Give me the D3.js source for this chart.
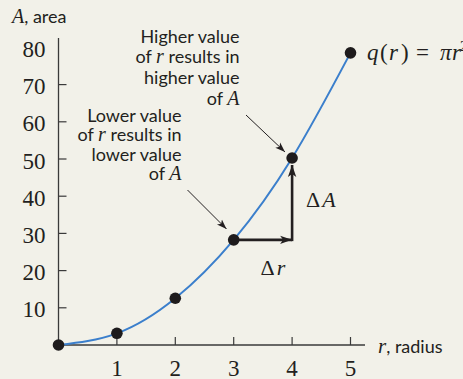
<!DOCTYPE html>
<html>
<head>
<meta charset="utf-8">
<script src="https://cdn.jsdelivr.net/npm/d3@7"></script>
<style>
  body { margin: 0; background: #f2f1e9; }
  svg { display: block; }
  .serif { font-family: "Liberation Serif", "DejaVu Serif", serif; fill: #231f20; }
  .sans { font-family: Lato, "Open Sans", sans-serif; fill: #231f20; }
</style>
</head>
<body>
<div id="chart"></div>
<script>
const width = 463, height = 379;

// data
const radii = [0, 1, 2, 3, 4, 5];
const areas = [0, 3.14, 12.57, 28.27, 50.27, 78.54];
const xTicks = [1, 2, 3, 4, 5];
const yTicks = [10, 20, 30, 40, 50, 60, 70];
const yLabels = [10, 20, 30, 40, 50, 60, 70, 80];
const upperNote = ["Higher value", "of |r| results in", "higher value", "of |A|"];
const lowerNote = ["Lower value", "of |r| results in", "lower value", "of |A|"];

const svg = d3.select("#chart")
  .append("svg")
  .attr("width", width)
  .attr("height", height);

const defs = svg.append("defs");
defs.append("marker")
  .attr("id", "thin")
  .attr("viewBox", "0 0 10 10")
  .attr("refX", 10).attr("refY", 5)
  .attr("markerWidth", 10).attr("markerHeight", 10)
  .attr("markerUnits", "userSpaceOnUse")
  .attr("orient", "auto")
  .append("path").attr("d", "M0,1.5L10,5L0,8.5L2.5,5Z").attr("fill", "#231f20");
defs.append("marker")
  .attr("id", "thick")
  .attr("viewBox", "0 0 10 10")
  .attr("refX", 10).attr("refY", 5)
  .attr("markerWidth", 12).attr("markerHeight", 12)
  .attr("markerUnits", "userSpaceOnUse")
  .attr("orient", "auto")
  .append("path").attr("d", "M0,1.5L10,5L0,8.5L2.5,5Z").attr("fill", "#231f20");

const x = d3.scaleLinear().domain([0, 5]).range([58.5, 350.5]);
const y = d3.scaleLinear().domain([0, 80]).range([345, 47.4]);

// axes
const axisColor = "#3a3a3a";
svg.append("line")
  .attr("x1", x(0)).attr("x2", x(0)).attr("y1", 38).attr("y2", y(0))
  .attr("stroke", axisColor).attr("stroke-width", 1.3);
svg.append("line")
  .attr("x1", x(0)).attr("x2", 365).attr("y1", y(0)).attr("y2", y(0))
  .attr("stroke", axisColor).attr("stroke-width", 1.3);

svg.selectAll(".ytick").data(yTicks).join("line")
  .attr("x1", x(0)).attr("x2", x(0) + 8)
  .attr("y1", d => y(d)).attr("y2", d => y(d))
  .attr("stroke", axisColor).attr("stroke-width", 1.2);
svg.selectAll(".ylab").data(yLabels).join("text")
  .attr("class", "serif")
  .attr("x", 45.5).attr("y", d => y(d) + 9.5)
  .attr("text-anchor", "end")
  .attr("font-size", 23)
  .text(d => d);

svg.selectAll(".xtick").data(xTicks).join("line")
  .attr("x1", d => x(d)).attr("x2", d => x(d))
  .attr("y1", y(0)).attr("y2", y(0) - 8)
  .attr("stroke", axisColor).attr("stroke-width", 1.2);
svg.selectAll(".xlab").data(xTicks).join("text")
  .attr("class", "serif")
  .attr("x", d => x(d)).attr("y", 375.5)
  .attr("text-anchor", "middle")
  .attr("font-size", 23)
  .text(d => d);

// axis titles
const yt = svg.append("text").attr("x", 12).attr("y", 22.5).attr("font-size", 18);
yt.append("tspan").attr("class", "serif").attr("font-style", "italic").attr("font-size", 20).text("A");
yt.append("tspan").attr("class", "sans").text(", area");

const xt = svg.append("text").attr("x", 378).attr("y", 353).attr("font-size", 18);
xt.append("tspan").attr("class", "serif").attr("font-style", "italic").attr("font-size", 21).text("r");
xt.append("tspan").attr("class", "sans").text(", radius");

// curve
const pts = radii.map((r, i) => [r, areas[i]]);
svg.append("path")
  .attr("d", d3.line().x(d => x(d[0])).y(d => y(d[1])).curve(d3.curveNatural)(pts))
  .attr("fill", "none")
  .attr("stroke", "#3b7fcc")
  .attr("stroke-width", 2);

// delta arrows
svg.append("line")
  .attr("x1", x(3)).attr("y1", y(areas[3]))
  .attr("x2", x(4)).attr("y2", y(areas[3]))
  .attr("stroke", "#231f20").attr("stroke-width", 2.6)
  .attr("marker-end", "url(#thick)");
svg.append("line")
  .attr("x1", x(4)).attr("y1", y(areas[3]) + 1.3)
  .attr("x2", x(4)).attr("y2", y(areas[4]) + 7)
  .attr("stroke", "#231f20").attr("stroke-width", 2.6)
  .attr("marker-end", "url(#thick)");

// points
svg.selectAll(".pt").data(pts).join("circle")
  .attr("cx", d => x(d[0])).attr("cy", d => y(d[1]))
  .attr("r", 5.8)
  .attr("fill", "#1e1b1c");

// delta labels
const dA = svg.append("text").attr("class", "serif").attr("x", 306).attr("y", 207).attr("font-size", 22);
dA.append("tspan").text("Δ");
dA.append("tspan").attr("font-style", "italic").attr("dx", 2).text("A");
const dr = svg.append("text").attr("class", "serif").attr("x", 260.5).attr("y", 275).attr("font-size", 22);
dr.append("tspan").text("Δ");
dr.append("tspan").attr("font-style", "italic").attr("dx", 2).text("r");

// equation
const eq = svg.append("text").attr("class", "serif").attr("y", 60).attr("font-size", 23);
eq.append("tspan").attr("x", 367).attr("font-style", "italic").text("q");
eq.append("tspan").attr("x", 380).text("(");
eq.append("tspan").attr("x", 389).attr("font-style", "italic").text("r");
eq.append("tspan").attr("x", 401).text(")");
eq.append("tspan").attr("x", 416).text("=");
eq.append("tspan").attr("x", 440).attr("font-style", "italic").text("π");
eq.append("tspan").attr("x", 452).attr("font-style", "italic").text("r");
eq.append("tspan").attr("x", 460).attr("font-size", 15).attr("dy", -9).text("2");

// annotations
function note(lines, xr, y0, step) {
  lines.forEach((ln, i) => {
    const t = svg.append("text")
      .attr("class", "sans")
      .attr("x", xr).attr("y", y0 + i * step)
      .attr("text-anchor", "end")
      .attr("font-size", 18);
    ln.split("|").forEach((part, j) => {
      if (j % 2 === 1) {
        t.append("tspan").attr("class", "serif").attr("font-style", "italic")
          .attr("font-size", 20).text(part);
      } else if (part) {
        t.append("tspan").text(part);
      }
    });
  });
}
note(upperNote, 239.5, 42.5, 20.8);
note(lowerNote, 181.5, 122, 19.4);

svg.append("line")
  .attr("x1", 246).attr("y1", 115).attr("x2", 285).attr("y2", 152)
  .attr("stroke", "#231f20").attr("stroke-width", 1)
  .attr("marker-end", "url(#thin)");
svg.append("line")
  .attr("x1", 187.5).attr("y1", 190).attr("x2", 226.5).attr("y2", 229)
  .attr("stroke", "#231f20").attr("stroke-width", 1)
  .attr("marker-end", "url(#thin)");
</script>
</body>
</html>
